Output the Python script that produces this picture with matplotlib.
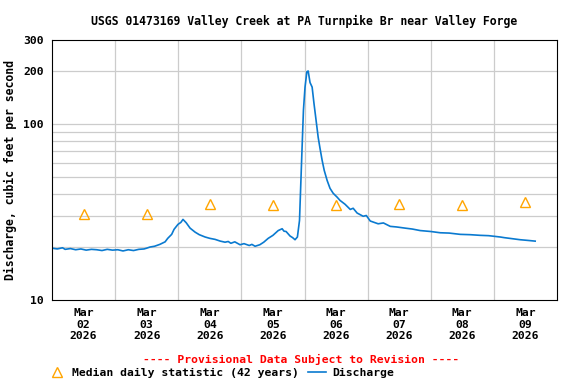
import matplotlib
matplotlib.use("Agg")
import matplotlib.pyplot as plt
from matplotlib.ticker import FixedLocator, NullFormatter
from datetime import datetime, timedelta

plt.rcParams["font.family"] = "DejaVu Sans Mono"
plt.rcParams["font.weight"] = "bold"
plt.rcParams["font.size"] = 8.2
plt.rcParams["axes.titlesize"] = 8.3
plt.rcParams["axes.titleweight"] = "bold"
plt.rcParams["axes.labelweight"] = "bold"

start = datetime(2026, 3, 2)

# discharge readings: hours after Mar 02 00:00, flow in cfs
hours = [0, 2, 4, 5, 7, 9, 11, 13, 15, 17, 19, 21, 23, 25, 27, 29, 31, 33, 35, 36,
         37.3, 39, 41, 43, 44, 45.5, 46.4, 47.9, 49, 49.8, 51, 52.5, 54.4, 56, 58.2,
         60, 62, 64, 65.8, 67, 68, 69.5, 71.5, 73, 75, 76, 77.2, 79, 80.5, 82.2,
         84, 86, 87.5, 88.2, 89, 90.5, 91.5, 92.4, 93.3, 94.1, 95.0, 95.6, 96.2,
         96.9, 97.4, 98.1, 98.9, 99.6, 100.4, 101.2, 101.9, 102.7, 103.5, 104.6,
         105.7, 106.9, 108.4, 109.5, 111.4, 113.4, 114.5, 116, 118.3, 119.5, 121,
         124, 126, 128.6, 131, 134.3, 137, 140, 144, 147.6, 151, 155.2, 159, 162.8,
         166, 170.4, 172, 175, 178, 181, 183.7]
flow = [19.7, 19.5, 19.8, 19.4, 19.6, 19.3, 19.5, 19.2, 19.4, 19.3, 19.1, 19.4, 19.2,
        19.3, 19.0, 19.3, 19.1, 19.4, 19.5, 19.7,
        20.0, 20.2, 20.7, 21.4, 22.4, 23.6, 25.2, 26.9, 27.6, 28.7, 27.5, 25.6, 24.3,
        23.5, 22.8, 22.4, 22.1, 21.6, 21.3, 21.5, 21.0, 21.4, 20.6, 20.9, 20.4, 20.7,
        20.2, 20.6, 21.3, 22.4, 23.3, 24.8, 25.4, 24.6, 24.5, 23.1, 22.6, 22.0, 22.8,
        28.3, 68, 120, 162, 198, 200, 172, 162, 131, 105, 84, 72.7, 62.2, 54.5, 47.8,
        43.1, 40.4, 38.4, 36.8, 35.0, 32.7, 33.2, 31.2, 29.9, 30.2, 28.1, 27.1, 27.4,
        26.2, 26.0, 25.6, 25.3, 24.8, 24.5, 24.1, 24.0, 23.6, 23.5, 23.3, 23.2, 22.8,
        22.6, 22.3, 22.0, 21.8, 21.6]

# median daily statistic, plotted at noon of each day
median_days = [0, 1, 2, 3, 4, 5, 6, 7]
median_flow = [31, 31, 35, 34.5, 34.5, 35, 34.5, 36]

times = [start + timedelta(hours=h) for h in hours]
median_times = [start + timedelta(days=d, hours=12) for d in median_days]

fig = plt.figure(figsize=(5.76, 3.84), dpi=100)
ax = fig.add_axes([52 / 576, 1 - 300 / 384, 505 / 576, 260 / 384])

ax.set_yscale("log")
ax.set_ylim(10, 300)
ax.set_xlim(start, start + timedelta(days=8))

# grid lines at midnight and on the log scale
for d in range(1, 8):
    ax.axvline(start + timedelta(days=d), color="#cccccc", lw=0.9, zorder=0)
for v in [20, 30, 40, 50, 60, 70, 80, 90, 100, 200]:
    ax.axhline(v, color="#cccccc", lw=0.9, zorder=0)

med, = ax.plot(median_times, median_flow, linestyle="none", marker="^", ms=6.5,
               mfc="none", mec="#ffa500", mew=1.0, label="Median daily statistic (42 years)")
dis, = ax.plot(times, flow, color="#0a7ad0", lw=1.2, label="Discharge")

ax.yaxis.set_major_locator(FixedLocator([10, 100, 200, 300]))
ax.yaxis.set_minor_formatter(NullFormatter())
ax.set_yticklabels(["10", "100", "200", "300"])
ax.tick_params(axis="y", which="both", length=0, pad=6)

ax.set_xticks(median_times)
ax.set_xticklabels([t.strftime("%b\n%d\n%Y") for t in median_times], linespacing=1.15)
ax.tick_params(axis="x", length=0, pad=6)

for s in ax.spines.values():
    s.set_linewidth(0.8)

ax.set_ylabel("Discharge, cubic feet per second", labelpad=4, fontsize=8.3)
ax.set_title("USGS 01473169 Valley Creek at PA Turnpike Br near Valley Forge", pad=11)

fig.text(0.523, 1 - 359 / 384, "---- Provisional Data Subject to Revision ----",
         color="red", ha="center", va="center")
fig.legend(handles=[med, dis], loc="center left", bbox_to_anchor=(48 / 576, 1 - 373 / 384),
           ncol=2, frameon=False, handlelength=1.6, handletextpad=0.5,
           columnspacing=0.8, borderaxespad=0, borderpad=0)

fig.savefig("out.png", dpi=100)
